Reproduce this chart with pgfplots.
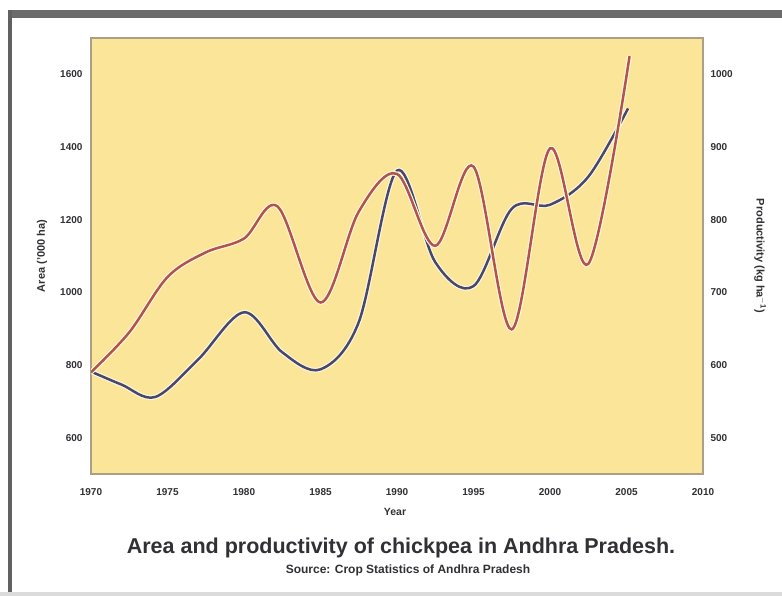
\documentclass[border=0pt]{standalone}
\usepackage{pgfplots}
\pgfplotsset{compat=1.18}
\usepackage{pgfplotstable}
\usepackage{fontspec}
\setmainfont{Liberation Sans}
\definecolor{bgyellow}{RGB}{251,229,152}
\definecolor{framecol}{RGB}{172,160,132}
\definecolor{areacol}{RGB}{70,72,112}
\definecolor{prodcol}{RGB}{176,84,80}
\definecolor{halo}{RGB}{255,247,220}
\definecolor{txt}{RGB}{50,48,52}

\pgfplotstableread{
year area
1970 782
1972 746
1974.2 712
1977 815
1980 945
1982.5 835
1985 788
1987.5 918
1990 1335
1992.5 1083
1995 1017
1997.5 1230
2000 1241
2002.5 1318
2005.1 1506
}\areatab

\pgfplotstableread{
year prod
1970 590
1972.5 645
1975 721
1977.5 755
1980 774
1982.2 818
1985 686
1987.5 811
1990 863
1992.5 764
1995 873
1997.5 649
2000 898
2002.5 739
2005.2 1025
}\prodtab

\begin{document}
\begin{tikzpicture}[x=1pt,y=1pt]
\useasboundingbox (0,0) rectangle (782,596);
\fill[white] (0,0) rectangle (782,596);
\fill[black!58] (8,578) rectangle (782,586);
\fill[black!62] (8,0) rectangle (12,586);
\fill[black!14] (0,0) rectangle (782,4);

\pgfplotsset{
  base/.style={
    at={(91pt,122pt)}, anchor=south west, scale only axis,
    width=612pt, height=436pt,
    xmin=1970, xmax=2010,
    xtick={1970,1975,...,2010},
    major tick length=0pt,
    tick label style={font=\bfseries\fontsize{10}{11}\selectfont, text=txt},
    /pgf/number format/assume math mode=true,
    /pgf/number format/1000 sep={},
    axis line style={framecol, line width=2.5pt},
  }
}

\begin{axis}[base,
  ymin=500, ymax=1700, ytick={600,800,...,1600},
  axis background/.style={fill=bgyellow},
  xticklabel style={yshift=-11pt},
  yticklabel style={xshift=-5pt},
]
\addplot[halo, line width=4.8pt, smooth, tension=0.55] table[x=year,y=area] {\areatab};
\addplot[areacol, line width=2.5pt, smooth, tension=0.55] table[x=year,y=area] {\areatab};
\end{axis}

\begin{axis}[base,
  ymin=450, ymax=1050, ytick={500,600,...,1000},
  axis y line*=right, axis x line=none,
  yticklabel style={xshift=4pt},
]
\addplot[halo, line width=4.8pt, smooth, tension=0.55] table[x=year,y=prod] {\prodtab};
\addplot[prodcol, line width=2.5pt, smooth, tension=0.55] table[x=year,y=prod] {\prodtab};
\end{axis}

\node[font=\bfseries\fontsize{10.5}{12}\selectfont, text=txt] at (395,84) {Year};
\node[font=\bfseries\fontsize{11}{12}\selectfont, text=txt, rotate=90] at (42,340) {Area ('000 ha)};
\node[font=\bfseries\fontsize{11}{12}\selectfont, text=txt, rotate=-90] at (760,340) {Productivity (kg ha$^{\mathbf{-1}}$)};
\node[font=\bfseries\fontsize{21.5}{24}\selectfont, text=txt] at (401,48) {Area and productivity of chickpea in Andhra Pradesh.};
\node[font=\bfseries\fontsize{12}{13}\selectfont, text=txt] at (408,26) {Source: Crop Statistics of Andhra Pradesh};
\end{tikzpicture}
\end{document}
